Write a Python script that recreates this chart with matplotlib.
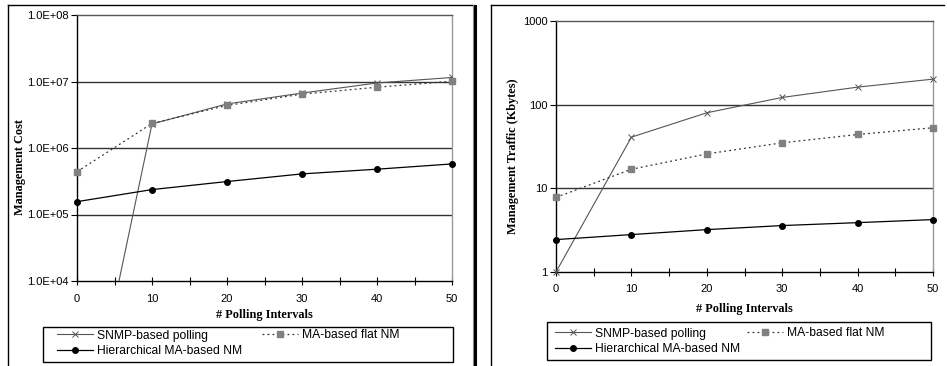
import matplotlib
matplotlib.use("Agg")
import matplotlib.pyplot as plt
from matplotlib.lines import Line2D
from matplotlib.patches import Rectangle
from matplotlib.ticker import FixedLocator, FuncFormatter

# --- data ---
intervals = [0, 10, 20, 30, 40, 50]

# left panel: management cost
cost_snmp = [10, 2.3e6, 4.6e6, 6.7e6, 9.5e6, 1.15e7]
cost_flat = [4.4e5, 2.34e6, 4.37e6, 6.46e6, 8.2e6, 1.01e7]
cost_hier = [1.56e5, 2.37e5, 3.13e5, 4.08e5, 4.8e5, 5.76e5]

# right panel: management traffic (Kbytes)
traffic_snmp = [1, 40.9, 80, 122, 162, 202]
traffic_flat = [7.8, 16.9, 25.8, 35, 44, 53]
traffic_hier = [2.44, 2.8, 3.21, 3.59, 3.89, 4.23]

labels = ["SNMP-based polling", "MA-based flat NM", "Hierarchical MA-based NM"]

W, H = 947, 366
fig = plt.figure(figsize=(W / 100, H / 100), dpi=100)

SANS = "Liberation Sans"
SERIF = "Liberation Serif"


def px_axes(x0, y0, x1, y1):
    # pixel box (top-left origin) -> figure axes
    return fig.add_axes([x0 / W, (H - y1) / H, (x1 - x0) / W, (y1 - y0) / H])


def px_line(xs, ys, **kw):
    fig.add_artist(Line2D([x / W for x in xs], [(H - y) / H for y in ys],
                          transform=fig.transFigure, **kw))


def draw_panel(ax, snmp, flat, hier, ylim, yfmt, ylabel, ylab_pos, xlab_y,
               snmp_clip):
    ax.set_yscale("log")
    ax.set_xlim(0, 50)
    ax.set_ylim(*ylim)
    decades = []
    v = ylim[0]
    while v <= ylim[1] * 1.001:
        decades.append(v)
        v *= 10
    for d in decades[1:-1]:
        ax.axhline(d, color="#333333", lw=1.0, zorder=1)

    h1, = ax.plot(intervals, snmp, color="#555555", lw=0.8, marker="x",
                  ms=4.5, mew=0.7, zorder=3, clip_on=snmp_clip)
    h2, = ax.plot(intervals, flat, color="#333333", lw=0.9, ls=(0, (1.5, 2.5)),
                  marker="s", ms=3.8, mfc="#808080", mec="#808080", zorder=3,
                  clip_on=False)
    h3, = ax.plot(intervals, hier, color="black", lw=0.9, marker="o", ms=4,
                  zorder=4, clip_on=False)

    ax.yaxis.set_major_locator(FixedLocator(decades))
    ax.yaxis.set_minor_locator(FixedLocator([]))
    ax.yaxis.set_major_formatter(FuncFormatter(yfmt))
    ax.set_xticks(intervals)
    ax.set_xticks(range(0, 51, 5), minor=True)
    ax.tick_params(axis="x", which="both", direction="inout", length=6,
                   width=0.8, labelsize=8, pad=6)
    ax.tick_params(axis="y", which="major", direction="out", length=4,
                   width=0.8, labelsize=8, pad=2)
    for t in ax.get_xticklabels() + ax.get_yticklabels():
        t.set_fontfamily(SANS)

    ax.spines["left"].set_color("black")
    ax.spines["bottom"].set_color("black")
    ax.spines["top"].set_color("#555555")
    ax.spines["right"].set_color("#999999")
    for s in ax.spines.values():
        s.set_linewidth(1.0)

    ax.set_xlabel("# Polling Intervals", fontfamily=SERIF, fontweight="bold",
                  fontsize=8.8)
    ax.xaxis.set_label_coords(0.5, xlab_y)
    ax.set_ylabel(ylabel, fontfamily=SERIF, fontweight="bold", fontsize=8.8)
    ax.yaxis.set_label_coords(*ylab_pos)
    return h1, h2, h3


def add_legend(handles, box, col1_x, col2_x, top_y):
    h1, h2, h3 = handles
    x0, y0, x1, y1 = box
    fig.add_artist(Rectangle((x0 / W, (H - y1) / H), (x1 - x0) / W,
                             (y1 - y0) / H, transform=fig.transFigure,
                             facecolor="white", edgecolor="black", lw=1.0))
    common = dict(loc="upper left", bbox_transform=fig.transFigure,
                  prop={"family": SANS, "size": 8.7}, frameon=False,
                  borderaxespad=0, borderpad=0, handlelength=3.0,
                  handletextpad=0.3, labelspacing=0.3)
    fig.legend([h1, h3], [labels[0], labels[2]],
               bbox_to_anchor=(col1_x / W, (H - top_y) / H), **common)
    fig.legend([h2], [labels[1]],
               bbox_to_anchor=(col2_x / W, (H - top_y) / H), **common)


# outer panel frames
px_line([8, 8], [366, 5], color="black", lw=1.0)
px_line([8, 473], [5, 5], color="black", lw=1.0)
px_line([473, 473], [5, 366], color="#888888", lw=0.8)
px_line([475, 475], [6, 366], color="black", lw=2.2)
px_line([491, 491], [366, 5], color="black", lw=1.0)
px_line([491, 944], [5, 5], color="black", lw=1.0)

# left panel
ax1 = px_axes(77, 15, 452, 281)
hl = draw_panel(ax1, cost_snmp, cost_flat, cost_hier, (1e4, 1e8),
                lambda v, p: "%.1E" % v, "Management Cost",
                (-0.136, 0.43), -0.105, True)
add_legend(hl, (43, 327, 453, 362), 57, 262, 329.5)

# right panel
ax2 = px_axes(556, 21, 933, 272)
hr = draw_panel(ax2, traffic_snmp, traffic_flat, traffic_hier, (1, 1000),
                lambda v, p: "%d" % v, "Management Traffic (Kbytes)",
                (-0.098, 0.46), -0.124, False)
add_legend(hr, (547, 322, 931, 360), 555, 747, 327.5)

fig.savefig("out.png", dpi=100)
